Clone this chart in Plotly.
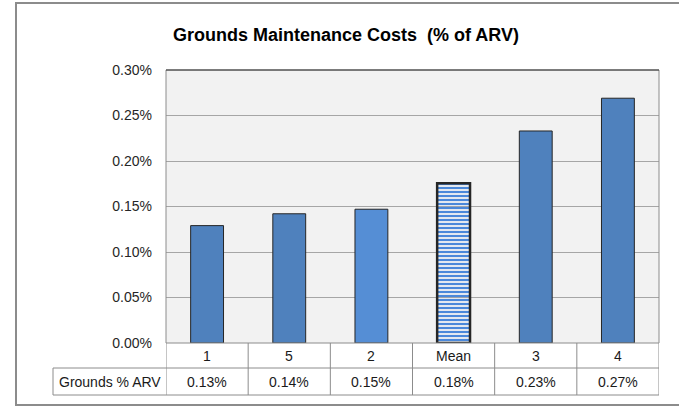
import plotly.graph_objects as go

# data (percent of ARV)
categories = ["1", "5", "2", "Mean", "3", "4"]
values = [0.129, 0.142, 0.147, 0.1755, 0.233, 0.269]
row_label = "Grounds % ARV"
y_ticks = [0.0, 0.05, 0.10, 0.15, 0.20, 0.25, 0.30]

W, H = 679, 406
L, R, T, B = 166, 659, 70, 343  # plot area in px
FONT = "Liberation Sans, Arial, sans-serif"


def px(x):
    return (x - L) / (R - L)


def py(y):
    return (B - y) / (B - T)


colors = ["#4F81BD", "#4F81BD", "#558ED5", "#4A88DA", "#4F81BD", "#4F81BD"]
line_widths = [1, 1, 1, 2.5, 1, 1]
shapes_pat = ["", "", "", "-", "", ""]

fig = go.Figure()
fig.add_trace(go.Bar(
    x=list(range(len(categories))),
    y=values,
    width=0.4,
    marker=dict(
        color=colors,
        line=dict(color="#262626", width=line_widths),
        pattern=dict(shape=shapes_pat, bgcolor="#FFFFFF",
                     size=4, solidity=0.55, fillmode="replace"),
    ),
    hoverinfo="skip",
    showlegend=False,
))

shapes = []
gray = "#8C8C8C"
# outer chart border
shapes.append(dict(type="rect", xref="paper", yref="paper",
                   x0=px(16), x1=px(700), y0=py(405), y1=py(3),
                   line=dict(color="#8C8C8C", width=2), layer="below"))
# plot area border
shapes.append(dict(type="rect", xref="paper", yref="paper",
                   x0=0, x1=1, y0=0, y1=1, line=dict(color=gray, width=1)))
shapes.append(dict(type="line", xref="paper", yref="paper",
                   x0=0, x1=1, y0=1, y1=1, line=dict(color="#333333", width=1)))
# data table lines
for yy in (368, 395):
    shapes.append(dict(type="line", xref="paper", yref="paper",
                       x0=px(53), x1=1, y0=py(yy), y1=py(yy),
                       line=dict(color=gray, width=1)))
for k in range(len(categories) + 1):
    shapes.append(dict(type="line", xref="x", yref="paper",
                       x0=k - 0.5, x1=k - 0.5, y0=0, y1=py(395),
                       line=dict(color=gray, width=1)))
shapes.append(dict(type="line", xref="paper", yref="paper",
                   x0=px(53), x1=px(53), y0=py(368), y1=py(395),
                   line=dict(color=gray, width=1)))

annotations = []
for i, (c, v) in enumerate(zip(categories, values)):
    annotations.append(dict(x=i, y=py(356), xref="x", yref="paper", text=c,
                            xanchor="center", yanchor="middle",
                            showarrow=False, font=dict(size=14, color="#1A1A1A")))
    annotations.append(dict(x=i, y=py(382), xref="x", yref="paper",
                            text=f"{v:.2f}%", showarrow=False,
                            xanchor="center", yanchor="middle",
                            font=dict(size=14, color="#1A1A1A")))
annotations.append(dict(x=px(109.5), y=py(382), xref="paper", yref="paper",
                        text=row_label, showarrow=False,
                        xanchor="center", yanchor="middle",
                        font=dict(size=14, color="#1A1A1A")))

fig.update_layout(
    width=W, height=H,
    margin=dict(l=L, r=W - R, t=T, b=H - B, pad=0),
    paper_bgcolor="#FFFFFF",
    plot_bgcolor="#F2F2F2",
    font=dict(family=FONT, size=14, color="#1A1A1A"),
    title=dict(text="<b>Grounds Maintenance Costs  (% of ARV)</b>",
               x=346 / W, xanchor="center", y=1 - 35 / H, yanchor="middle",
               font=dict(size=18, color="#000000")),
    xaxis=dict(range=[-0.5, len(categories) - 0.5], showticklabels=False,
               showgrid=False, zeroline=False, ticks=""),
    yaxis=dict(range=[0, 0.30], tickvals=y_ticks,
               ticktext=[f"{t:.2f}%" for t in y_ticks],
               showgrid=True, gridcolor="#A6A6A6", gridwidth=1,
               zeroline=False, ticks="", ticklabelstandoff=13,
               tickfont=dict(size=14, color="#262626")),
    shapes=shapes,
    annotations=annotations,
)

# drop the default page margin so the figure sits at the window corner
fig.write_html("out.html", config={"displayModeBar": False},
               post_script="document.body.style.margin='0px';")
